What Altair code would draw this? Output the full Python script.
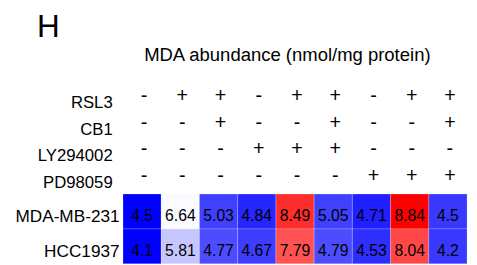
import altair as alt
import pandas as pd

# ---- data ----
columns = [1, 2, 3, 4, 5, 6, 7, 8, 9]
treatments = ["RSL3", "CB1", "LY294002", "PD98059"]
rsl3 = ["-", "+", "+", "-", "+", "+", "-", "+", "+"]
cb1 = ["-", "-", "+", "-", "-", "+", "-", "-", "+"]
ly294002 = ["-", "-", "-", "+", "+", "+", "-", "-", "-"]
pd98059 = ["-", "-", "-", "-", "-", "-", "+", "+", "+"]

cell_lines = ["MDA-MB-231", "HCC1937"]
mda_values = ["4.5", "6.64", "5.03", "4.84", "8.49", "5.05", "4.71", "8.84", "4.5"]
hcc_values = ["4.1", "5.81", "4.77", "4.67", "7.79", "4.79", "4.53", "8.04", "4.2"]
# colour intensity of each cell (-1 = full blue, 0 = white, 1 = full red)
mda_color = [-1.0, -0.02, -0.75, -0.85, 0.82, -0.75, -0.88, 1.0, -0.78]
hcc_color = [-1.0, -0.22, -0.70, -0.76, 0.68, -0.70, -0.82, 0.72, -0.78]

sign_rows = {"RSL3": rsl3, "CB1": cb1, "LY294002": ly294002, "PD98059": pd98059}
cond_df = pd.DataFrame(
    [{"col": c, "treatment": t, "sign": s}
     for t in treatments for c, s in zip(columns, sign_rows[t])]
)
heat_df = pd.DataFrame(
    [{"col": c, "cell": "MDA-MB-231", "label": v, "score": k}
     for c, v, k in zip(columns, mda_values, mda_color)]
    + [{"col": c, "cell": "HCC1937", "label": v, "score": k}
       for c, v, k in zip(columns, hcc_values, hcc_color)]
)

FONT = "Liberation Sans"

x_enc = alt.X(
    "col:O",
    scale=alt.Scale(paddingInner=0, paddingOuter=0),
    axis=alt.Axis(
        orient="top", labels=False, ticks=False, domain=False,
        title="MDA abundance (nmol/mg protein)", titleFontSize=18.8,
        titleFontWeight="normal", titleColor="black", titleX=21, titleY=-23,
        titleAlign="left", titleBaseline="alphabetic", titleAnchor="start",
    ),
)

cond = alt.Chart(cond_df).mark_text(
    fontSize=20, baseline="middle", dx=2, color="black"
).encode(
    x=x_enc,
    y=alt.Y(
        "treatment:N", sort=treatments,
        scale=alt.Scale(range=[0, 108], paddingInner=0, paddingOuter=0),
        axis=alt.Axis(
            orient="left", domain=False, ticks=False, labelFontSize=17,
            labelPadding=11, labelOffset=6.5, labelColor="black",
            title="H", titleAngle=0, titleFontSize=32, titleFontWeight="normal",
            titleColor="black", titleX=-88, titleY=-47, titleAlign="left",
            titleBaseline="alphabetic",
        ),
    ),
    text="sign:N",
)

heat_y_axis = alt.Axis(
    orient="left", domain=False, ticks=False, labelFontSize=17.5,
    labelPadding=4, labelOffset=5.5, labelColor="black", title=None,
)
heat_scale = alt.Scale(range=[113, 184], paddingInner=0, paddingOuter=0)

rect = alt.Chart(heat_df).mark_rect(
    stroke="white", strokeWidth=0.6, strokeOpacity=0.35
).encode(
    x=x_enc,
    y=alt.Y("cell:N", sort=cell_lines, scale=heat_scale, axis=heat_y_axis),
    color=alt.Color(
        "score:Q",
        scale=alt.Scale(domain=[-1, 0, 1], range=["#0000ff", "#ffffff", "#ff0000"],
                        interpolate="rgb"),
        legend=None,
    ),
)

nums = alt.Chart(heat_df).mark_text(
    fontSize=16, baseline="middle", dy=4.5, color="black"
).encode(
    x=x_enc,
    y=alt.Y("cell:N", sort=cell_lines, scale=heat_scale, axis=heat_y_axis),
    text="label:N",
)

heat = alt.layer(rect, nums)

chart = (
    alt.layer(cond, heat)
    .resolve_scale(y="independent")
    .resolve_axis(y="independent")
    .properties(
        width=350, height=184,
        autosize=alt.AutoSizeParams(type="none"),
        padding={"left": 117, "top": 74, "right": 2, "bottom": 0},
    )
    .configure(font=FONT)
    .configure_view(stroke=None)
)

chart.save("out.html", embed_options={"renderer": "svg", "actions": False})
